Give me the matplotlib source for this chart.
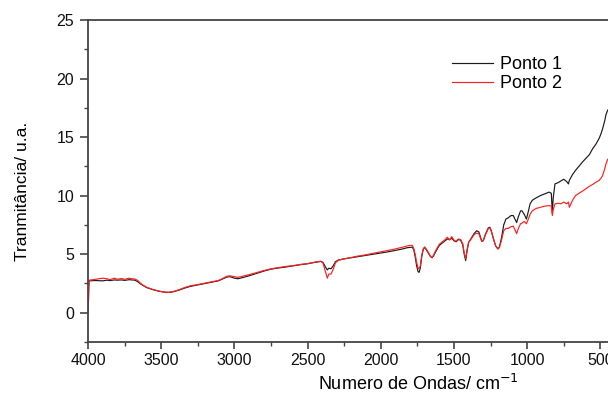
import matplotlib
matplotlib.use("Agg")
import matplotlib.pyplot as plt
from matplotlib.ticker import MultipleLocator

plt.rcParams['font.family'] = ['Liberation Sans', 'DejaVu Sans']

wavenumber = [4000, 3990, 3950, 3900, 3870, 3850, 3820, 3800, 3770, 3750, 3720, 3700,
              3680, 3660, 3640, 3620, 3600, 3560, 3520, 3480, 3450, 3420, 3380, 3340,
              3300, 3260, 3220, 3180, 3140, 3110, 3080, 3050, 3030, 3000, 2975, 2950,
              2900, 2850, 2800, 2750, 2700, 2650, 2600, 2550, 2500, 2450, 2410, 2395,
              2380, 2365, 2355, 2340, 2325, 2310, 2290, 2250, 2200, 2150, 2100, 2050,
              2000, 1950, 1900, 1850, 1820, 1800, 1785, 1775, 1765, 1755, 1745, 1738,
              1730, 1720, 1710, 1700, 1690, 1675, 1660, 1650, 1640, 1625, 1600, 1580,
              1560, 1545, 1530, 1515, 1500, 1485, 1470, 1455, 1440, 1430, 1420, 1410,
              1400, 1385, 1360, 1345, 1330, 1320, 1310, 1300, 1285, 1265, 1255, 1245,
              1230, 1215, 1200, 1190, 1175, 1160, 1145, 1130, 1110, 1095, 1080, 1072,
              1060, 1045, 1035, 1020, 1005, 995, 980, 965, 940, 910, 880, 850,
              835, 828, 822, 810, 790, 770, 750, 730, 718, 712, 690, 670,
              640, 620, 598, 575, 553, 530, 508, 495, 485, 470, 462, 450]

ponto1 = [2.70, 2.72, 2.75, 2.72, 2.78, 2.74, 2.80, 2.78, 2.80, 2.76, 2.82, 2.80,
          2.78, 2.65, 2.45, 2.30, 2.15, 1.98, 1.85, 1.76, 1.74, 1.78, 1.92, 2.10,
          2.25, 2.35, 2.45, 2.55, 2.65, 2.72, 2.88, 3.05, 3.08, 2.95, 2.90, 2.98,
          3.15, 3.35, 3.55, 3.72, 3.82, 3.90, 4.00, 4.10, 4.18, 4.30, 4.38, 4.30,
          3.95, 3.65, 3.80, 3.75, 4.00, 4.35, 4.50, 4.60, 4.70, 4.80, 4.90, 5.00,
          5.10, 5.20, 5.32, 5.45, 5.55, 5.58, 5.60, 5.40, 4.80, 4.00, 3.50, 3.45,
          3.80, 4.80, 5.40, 5.60, 5.40, 5.10, 4.80, 4.70, 4.85, 5.20, 5.75, 5.95,
          6.15, 6.30, 6.25, 6.35, 6.15, 6.05, 6.25, 6.20, 5.80, 5.00, 4.45, 5.30,
          6.00, 6.30, 6.80, 7.00, 6.90, 6.50, 6.10, 6.15, 6.70, 7.25, 7.30, 7.00,
          6.30, 5.70, 5.45, 5.60, 6.40, 7.50, 8.00, 8.10, 8.30, 8.30, 7.90, 7.70,
          8.20, 8.70, 8.70, 8.40, 8.00, 8.50, 9.30, 9.60, 9.80, 10.00, 10.15, 10.30,
          10.20, 8.50, 9.80, 11.00, 11.10, 11.25, 11.40, 11.20, 11.00, 11.30, 11.80, 12.15,
          12.60, 12.90, 13.20, 13.50, 14.00, 14.40, 14.90, 15.30, 15.70, 16.40, 16.90, 17.30]

ponto2 = [0.00, 2.78, 2.85, 2.95, 2.90, 2.82, 2.95, 2.86, 2.92, 2.85, 2.95, 2.90,
          2.88, 2.75, 2.50, 2.32, 2.18, 2.00, 1.86, 1.76, 1.74, 1.80, 1.95, 2.15,
          2.30, 2.38, 2.48, 2.58, 2.68, 2.75, 2.92, 3.12, 3.15, 3.08, 3.02, 3.10,
          3.25, 3.42, 3.60, 3.75, 3.85, 3.95, 4.02, 4.12, 4.20, 4.32, 4.40, 4.25,
          3.60, 2.95, 3.30, 3.30, 3.70, 4.25, 4.48, 4.60, 4.72, 4.85, 4.95, 5.08,
          5.20, 5.32, 5.45, 5.60, 5.70, 5.75, 5.75, 5.50, 5.00, 4.30, 3.80, 3.75,
          4.00, 4.90, 5.45, 5.60, 5.45, 5.15, 4.80, 4.72, 4.90, 5.30, 5.85, 6.05,
          6.25, 6.45, 6.20, 6.50, 6.20, 6.10, 6.30, 6.25, 5.90, 5.10, 4.60, 5.40,
          6.00, 6.25, 6.70, 6.80, 6.75, 6.40, 6.10, 6.15, 6.65, 7.20, 7.25, 6.95,
          6.30, 5.70, 5.45, 5.55, 6.20, 7.00, 7.20, 7.20, 7.35, 7.40, 7.00, 6.75,
          7.20, 7.60, 7.65, 7.80, 7.60, 7.90, 8.40, 8.70, 8.90, 9.00, 9.10, 9.15,
          9.10, 8.30, 8.80, 9.30, 9.35, 9.30, 9.45, 9.30, 9.45, 9.00, 9.60, 10.00,
          10.25, 10.40, 10.60, 10.80, 10.95, 11.15, 11.30, 11.50, 11.70, 12.30, 12.70, 13.10]

labels = ['Ponto 1', 'Ponto 2']
x_label = 'Numero de Ondas/ cm$^{-1}$'
y_label = 'Tranmitância/ u.a.'

fig = plt.figure(figsize=(6.08, 3.95), dpi=100)
ax = fig.add_axes([0.1447, 0.1342, 0.8668, 0.8152])

ax.plot(wavenumber, ponto1, color='#1a1a1a', lw=0.85, label=labels[0])
ax.plot(wavenumber, ponto2, color='#ff2020', lw=0.85, label=labels[1])

ax.set_xlim(4000, 400)
ax.set_ylim(-2.5, 25)
ax.xaxis.set_major_locator(MultipleLocator(500))
ax.xaxis.set_minor_locator(MultipleLocator(250))
ax.yaxis.set_major_locator(MultipleLocator(5))
ax.yaxis.set_minor_locator(MultipleLocator(2.5))

for s in ['left', 'bottom', 'top', 'right']:
    ax.spines[s].set_color('#444444')
    ax.spines[s].set_linewidth(1.3)

ax.tick_params(which='major', direction='out', length=5, width=1.2, colors='#444444',
               labelcolor='#111111', labelsize=11.5, top=False, right=False)
ax.tick_params(which='minor', direction='out', length=3, width=1.0, colors='#444444',
               top=False, right=False)
ax.tick_params(axis='y', which='major', length=6, pad=4)
ax.tick_params(axis='x', which='major', pad=3)

ax.set_xlabel(x_label, fontsize=13)
ax.set_ylabel(y_label, fontsize=12.5)
ax.xaxis.set_label_coords((418 - 88) / (0.8668 * 608), -0.10)
ax.yaxis.set_label_coords(-(88 - 30) / (0.8668 * 608), (395 - 191 - 53) / (0.8152 * 395))

leg = ax.legend(loc='upper left', bbox_to_anchor=(0.743, 0.857), bbox_transform=fig.transFigure,
                frameon=False, fontsize=13, handlelength=2.3, handletextpad=0.35,
                labelspacing=0.1, borderpad=0, borderaxespad=0)

fig.savefig('out.png', dpi=100)
